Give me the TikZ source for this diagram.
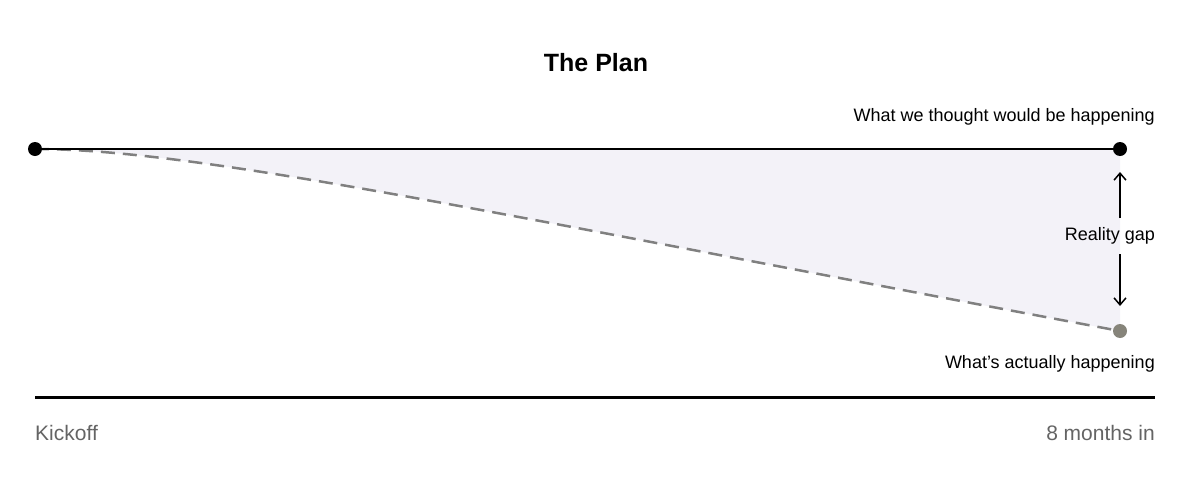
\documentclass[tikz,border=0pt]{standalone}
\usepackage{fontspec}
\setmainfont{Liberation Sans}
\usetikzlibrary{arrows.meta}
\definecolor{gapfill}{RGB}{243,242,248}
\definecolor{dashg}{RGB}{128,128,128}
\definecolor{dotg}{RGB}{134,132,122}
\definecolor{axlab}{RGB}{100,100,100}
\begin{document}
\begin{tikzpicture}[x=1pt,y=-1pt,
  lbl/.style={font=\fontsize{18}{20}\selectfont,inner sep=0pt,anchor=east},
  axl/.style={font=\fontsize{21}{24}\selectfont,inner sep=0pt,text=axlab},
  dot/.style={circle,fill,inner sep=0pt,minimum size=14pt}]
\useasboundingbox (0,0) rectangle (1200,482);
\fill[gapfill] (35,149) .. controls (200,149) and (500,215) .. (1120,331) -- (1120,149) -- cycle;
\draw[dashg,line width=2.5pt,dash pattern=on 14pt off 8pt] (35,149) .. controls (200,149) and (500,215) .. (1120,331);
\draw[line width=2.5pt] (35,149) -- (1120,149);
\node[dot] (s) at (35,149) {};
\node[dot] (e) at (1120,149) {};
\node[dot,fill=dotg] (a) at (1120,331) {};
\node[font=\bfseries\fontsize{25}{28}\selectfont] (t) at (596,63) {The Plan};
\node[lbl] (w) at (1155,117) {What we thought would be happening};
\node[lbl] (g) at (1155,236) {Reality gap};
\node[lbl] (h) at (1155,364) {What's actually happening};
\coordinate (u1) at (1120,218); \coordinate (u2) at (1120,172);
\coordinate (d1) at (1120,254); \coordinate (d2) at (1120,306);
\draw[line width=1.5pt,-{Straight Barb[length=7pt,width=12pt]}] (u1) -- (u2);
\draw[line width=1.5pt,-{Straight Barb[length=7pt,width=12pt]}] (d1) -- (d2);
\draw[line width=3pt] (35,397) -- (1155,397);
\node[axl,anchor=west] (k) at (35,433) {Kickoff};
\node[axl,anchor=east] (m) at (1155,433) {8 months in};
\end{tikzpicture}
\end{document}
